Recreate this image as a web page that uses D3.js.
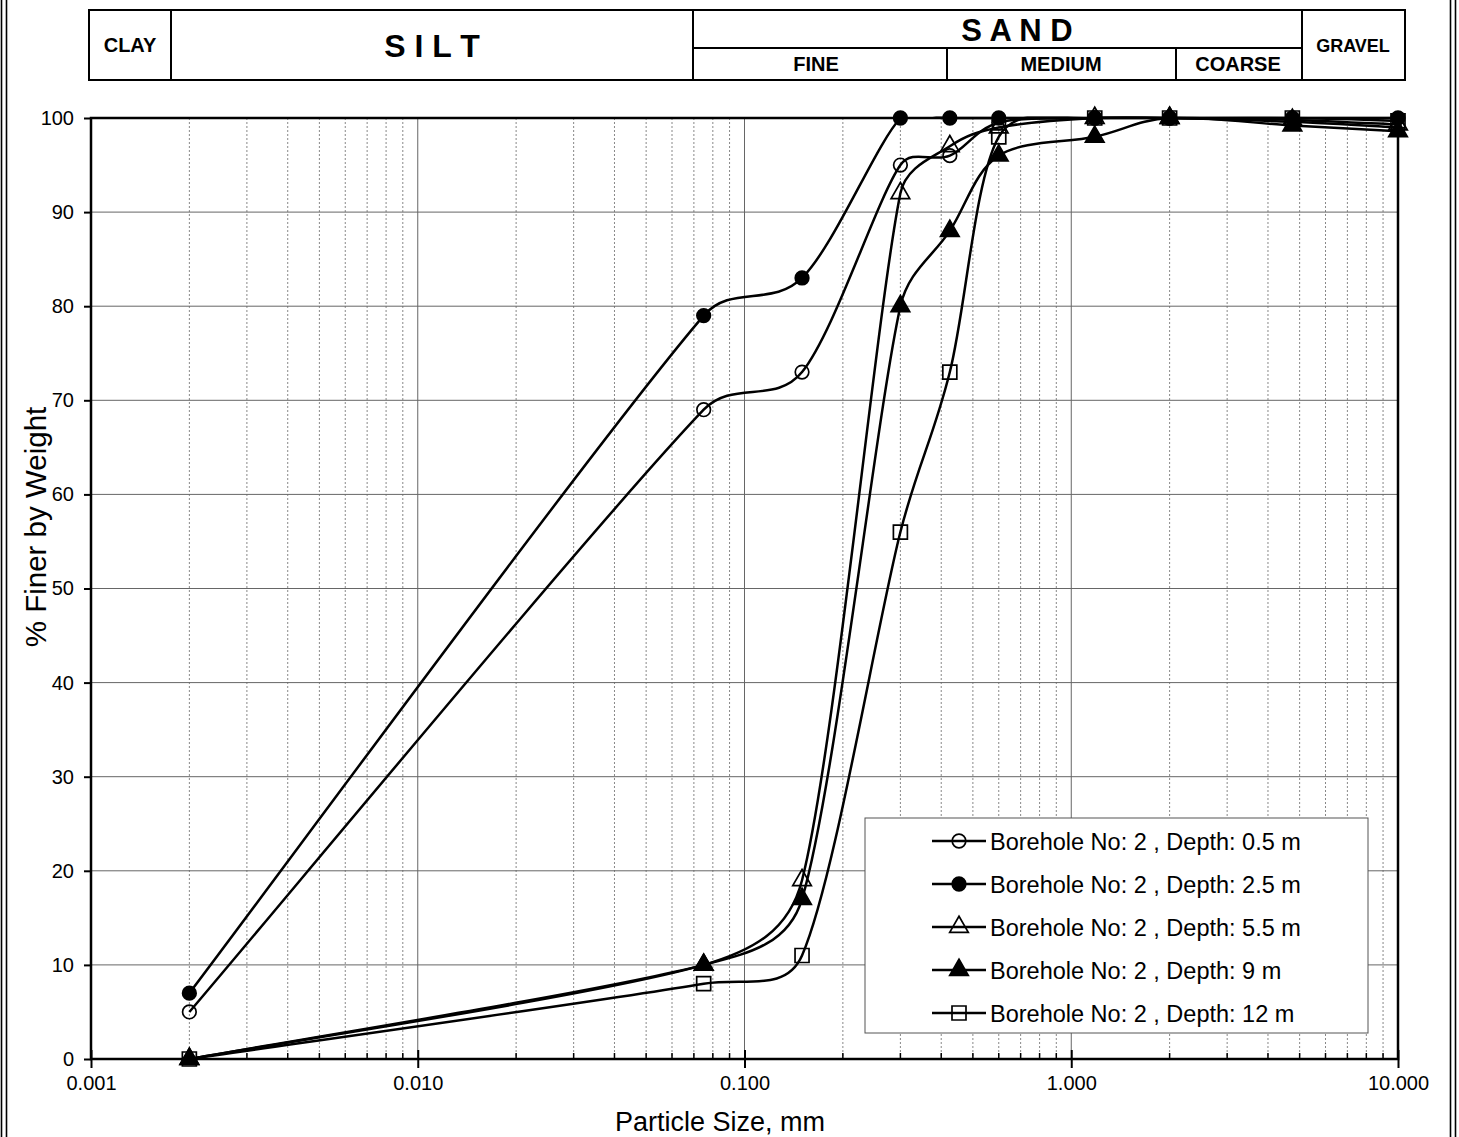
<!DOCTYPE html>
<html>
<head>
<meta charset="utf-8">
<script src="https://cdn.jsdelivr.net/npm/d3@7"></script>
<style>
  html, body { margin: 0; padding: 0; background: #fff; }
  svg { display: block; font-family: "Liberation Sans", Arial, sans-serif; }
</style>
</head>
<body>
<svg id="chart" width="1459" height="1137"></svg>
<script>
// sieve sizes (mm) and percent finer for each sample
const sizes = [0.002, 0.075, 0.15, 0.3, 0.425, 0.6, 1.18, 2.0, 4.75, 10];
const depth05 = [5, 69, 73, 95, 96, 99.5, 100, 100, 99.6, 99.0];
const depth25 = [7, 79, 83, 100, 100, 100, 100, 100, 100, 100];
const depth55 = [0, 10, 19, 92, 97, 99, 100, 100, 99.8, 99.3];
const depth9 = [0, 10, 17, 80, 88, 96, 98, 100, 99.2, 98.6];
const depth12 = [0, 8, 11, 56, 73, 98, 100, 100, 100, 99.7];

const seriesNames = [
  'Borehole No: 2 , Depth: 0.5 m',
  'Borehole No: 2 , Depth: 2.5 m',
  'Borehole No: 2 , Depth: 5.5 m',
  'Borehole No: 2 , Depth: 9 m',
  'Borehole No: 2 , Depth: 12 m'
];
const seriesValues = [depth05, depth25, depth55, depth9, depth12];
const seriesMarkers = ['circle', 'circle', 'triangle', 'triangle', 'square'];
const seriesFilled = [false, true, false, true, false];

const yTicks = [0, 10, 20, 30, 40, 50, 60, 70, 80, 90, 100];
const xTicks = [0.001, 0.01, 0.1, 1, 10];

// soil classification header
const headerTop = ['CLAY', 'S I L T', 'S A N D', 'GRAVEL'];
const headerSand = ['FINE', 'MEDIUM', 'COARSE'];

const svg = d3.select('#chart');
const W = 1459, H = 1137;
const pLeft = 91, pRight = 1398, pTop = 118, pBottom = 1059;

const x = d3.scaleLog().domain([0.001, 10]).range([pLeft, pRight]);
const y = d3.scaleLinear().domain([0, 100]).range([pBottom, pTop]);

svg.append('defs').append('clipPath').attr('id', 'plotClip')
  .append('rect')
  .attr('x', pLeft - 2).attr('y', pTop - 1.5)
  .attr('width', pRight - pLeft + 4).attr('height', pBottom - pTop + 3);

// page frame (double lines)
[1.5, 6.5, W - 8.5, W - 3.5].forEach(function(px) {
  svg.append('line')
    .attr('x1', px).attr('x2', px).attr('y1', 0).attr('y2', H)
    .attr('stroke', '#000').attr('stroke-width', 1.6);
});

// header table
const hdr = svg.append('g');
const hx = [89, 171, 693, 1302, 1405], hy0 = 10, hy1 = 80, hmid = 48;
const subx = [693, 947, 1176, 1302];
hdr.append('rect')
  .attr('x', hx[0]).attr('y', hy0)
  .attr('width', hx[4] - hx[0]).attr('height', hy1 - hy0)
  .attr('fill', 'none').attr('stroke', '#000').attr('stroke-width', 2);
[hx[1], hx[2], hx[3]].forEach(function(px) {
  hdr.append('line').attr('x1', px).attr('x2', px).attr('y1', hy0).attr('y2', hy1)
    .attr('stroke', '#000').attr('stroke-width', 2);
});
hdr.append('line').attr('x1', hx[2]).attr('x2', hx[3]).attr('y1', hmid).attr('y2', hmid)
  .attr('stroke', '#000').attr('stroke-width', 2);
[subx[1], subx[2]].forEach(function(px) {
  hdr.append('line').attr('x1', px).attr('x2', px).attr('y1', hmid).attr('y2', hy1)
    .attr('stroke', '#000').attr('stroke-width', 2);
});
const topCells = [
  {x: 130, y: 52, size: 20},
  {x: 432, y: 57, size: 32},
  {x: 1017, y: 41, size: 31},
  {x: 1353, y: 52, size: 18}
];
const subCells = [816, 1061, 1238];
headerTop.forEach(function(t, i) {
  hdr.append('text')
    .attr('x', topCells[i].x).attr('y', topCells[i].y)
    .attr('text-anchor', 'middle').attr('font-weight', 'bold')
    .attr('font-size', topCells[i].size)
    .text(t);
});
headerSand.forEach(function(t, i) {
  hdr.append('text')
    .attr('x', subCells[i]).attr('y', 71)
    .attr('text-anchor', 'middle').attr('font-weight', 'bold')
    .attr('font-size', 20)
    .text(t);
});

// grid
const minor = [];
for (let e = -3; e < 1; e++) {
  for (let m = 2; m <= 9; m++) minor.push(m * Math.pow(10, e));
}
const grid = svg.append('g');
grid.selectAll('.vminor').data(minor).enter().append('line')
  .attr('x1', d => x(d)).attr('x2', d => x(d))
  .attr('y1', pTop).attr('y2', pBottom)
  .attr('stroke', '#888').attr('stroke-width', 1)
  .attr('stroke-dasharray', '2,2');
grid.selectAll('.vmajor').data(xTicks.slice(1, -1)).enter().append('line')
  .attr('x1', d => x(d)).attr('x2', d => x(d))
  .attr('y1', pTop).attr('y2', pBottom)
  .attr('stroke', '#666').attr('stroke-width', 1);
grid.selectAll('.hgrid').data(yTicks.slice(1, -1)).enter().append('line')
  .attr('x1', pLeft).attr('x2', pRight)
  .attr('y1', d => y(d)).attr('y2', d => y(d))
  .attr('stroke', '#666').attr('stroke-width', 1);

// minor ticks inside bottom axis
svg.selectAll('.mtick').data(minor).enter().append('line')
  .attr('x1', d => x(d)).attr('x2', d => x(d))
  .attr('y1', pBottom).attr('y2', pBottom - 6)
  .attr('stroke', '#000').attr('stroke-width', 1.5);

// plot border
svg.append('rect')
  .attr('x', pLeft).attr('y', pTop)
  .attr('width', pRight - pLeft).attr('height', pBottom - pTop)
  .attr('fill', 'none').attr('stroke', '#000').attr('stroke-width', 2.5);

// axes
const yAxis = svg.append('g')
  .attr('transform', 'translate(' + pLeft + ',0)')
  .call(d3.axisLeft(y).tickValues(yTicks).tickSize(7).tickPadding(10).tickFormat(d3.format('d')));
const xAxis = svg.append('g')
  .attr('transform', 'translate(0,' + pBottom + ')')
  .call(d3.axisBottom(x).tickValues(xTicks).tickSize(9).tickPadding(8).tickFormat(d3.format('.3f')));
[yAxis, xAxis].forEach(function(a) {
  a.select('.domain').remove();
  a.selectAll('.tick line').attr('stroke', '#000').attr('stroke-width', 2);
  a.selectAll('.tick text').attr('font-size', 20).attr('fill', '#000')
    .attr('font-family', '"Liberation Sans", Arial, sans-serif');
});
xAxis.selectAll('.tick')
  .append('line').attr('y1', 0).attr('y2', -9).attr('stroke', '#000').attr('stroke-width', 2);

// axis titles
svg.append('text')
  .attr('x', 720).attr('y', 1131)
  .attr('text-anchor', 'middle').attr('font-size', 27)
  .text('Particle Size, mm');
svg.append('text')
  .attr('transform', 'translate(46,' + 527 + ') rotate(-90)')
  .attr('text-anchor', 'middle').attr('font-size', 29.5)
  .text('% Finer by Weight');

// spreadsheet-style smoothing: cardinal tangents, arms clamped to a share of the segment
function smoothPath(pts) {
  const n = pts.length, k = 0.4;
  const tan = pts.map(function(p, i) {
    const a = pts[Math.max(i - 1, 0)], b = pts[Math.min(i + 1, n - 1)];
    return [(b[0] - a[0]) / 6, (b[1] - a[1]) / 6];
  });
  function arm(t, seg) {
    const len = Math.hypot(t[0], t[1]), lim = k * seg;
    if (len === 0 || len <= lim) return t;
    return [t[0] * lim / len, t[1] * lim / len];
  }
  const p = d3.path();
  p.moveTo(pts[0][0], pts[0][1]);
  for (let i = 0; i < n - 1; i++) {
    const a = pts[i], b = pts[i + 1];
    const seg = Math.hypot(b[0] - a[0], b[1] - a[1]);
    const t1 = arm(tan[i], seg), t2 = arm(tan[i + 1], seg);
    p.bezierCurveTo(a[0] + t1[0], a[1] + t1[1], b[0] - t2[0], b[1] - t2[1], b[0], b[1]);
  }
  return p.toString();
}

function markerPath(type) {
  if (type === 'circle') return d3.symbol().type(d3.symbolCircle).size(145)();
  if (type === 'triangle') return d3.symbol().type(d3.symbolTriangle).size(150)();
  return d3.symbol().type(d3.symbolSquare).size(196)();
}

const plot = svg.append('g');
const lines = plot.append('g').attr('clip-path', 'url(#plotClip)');
seriesValues.forEach(function(vals, i) {
  const pts = sizes.map((s, j) => [x(s), y(vals[j])]);
  lines.append('path')
    .attr('d', smoothPath(pts))
    .attr('fill', 'none').attr('stroke', '#000').attr('stroke-width', 2.5);
});
seriesValues.forEach(function(vals, i) {
  const pts = sizes.map((s, j) => [s, vals[j]]);
  plot.selectAll('.m' + i).data(pts).enter().append('path')
    .attr('d', markerPath(seriesMarkers[i]))
    .attr('transform', d => 'translate(' + x(d[0]) + ',' + y(d[1]) + ')')
    .attr('fill', seriesFilled[i] ? '#000' : 'none')
    .attr('stroke', '#000').attr('stroke-width', 1.7);
});

// legend
const lg = svg.append('g');
lg.append('rect')
  .attr('x', 865).attr('y', 818).attr('width', 503).attr('height', 215)
  .attr('fill', '#fff').attr('stroke', '#555').attr('stroke-width', 1);
seriesNames.forEach(function(name, i) {
  const ry = 841 + i * 43;
  lg.append('line').attr('x1', 932).attr('x2', 986).attr('y1', ry).attr('y2', ry)
    .attr('stroke', '#000').attr('stroke-width', 2.5);
  lg.append('path')
    .attr('d', markerPath(seriesMarkers[i]))
    .attr('transform', 'translate(959,' + ry + ')')
    .attr('fill', seriesFilled[i] ? '#000' : 'none')
    .attr('stroke', '#000').attr('stroke-width', 1.7);
  lg.append('text')
    .attr('x', 990).attr('y', ry + 8.5)
    .attr('font-size', 23.5)
    .text(name);
});
</script>
</body>
</html>
